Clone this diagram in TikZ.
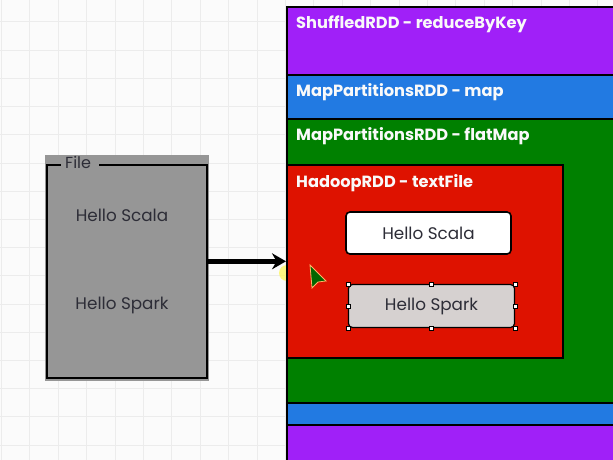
\documentclass[tikz,border=0pt]{standalone}
\usepackage{fontspec}
\setmainfont{Poppins}
\usetikzlibrary{positioning,arrows.meta}

\definecolor{shufpurple}{RGB}{160,32,248}
\definecolor{mapblue}{RGB}{34,122,226}
\definecolor{flatgreen}{RGB}{0,128,0}
\definecolor{hadoopred}{RGB}{222,18,0}
\definecolor{filegray}{RGB}{150,150,150}
\definecolor{sparkgray}{RGB}{214,209,208}
\definecolor{gridline}{RGB}{236,236,236}
\definecolor{textdark}{RGB}{45,45,55}

\begin{document}
\begin{tikzpicture}[x=1pt, y=1pt,
		rdd/.style = {draw = black, line width = 1.6pt, anchor = north west, inner sep = 0pt},
		rddlabel/.style = {anchor = west, text = white!95!gray, font = \fontsize{16.2}{18}\selectfont\bfseries, inner sep = 0pt},
		word/.style = {text = textdark, font = \fontsize{16.8}{19}\selectfont},
		line/.style = {draw = black, line width = 1.6pt, rounded corners = 4pt},
		handle/.style = {draw = black, fill = white, line width = 0.5pt, minimum size = 4pt, inner sep = 0pt},
		>=Stealth]
	\useasboundingbox (0,0) rectangle (613,-460);
	\clip (0,0) rectangle (613,-460);
	\fill[white!97!gray] (0,0) rectangle (613,-460);
	% grid
	\foreach \i in {0,...,21} {
		\draw[gridline, line width = 1pt] (1.5 + 28.4*\i, 0) -- (1.5 + 28.4*\i, -460);
	}
	\foreach \j in {0,...,16} {
		\draw[gridline, line width = 1pt] (0, -22 - 28.2*\j) -- (613, -22 - 28.2*\j);
	}
	% click highlight
	\fill[yellow!70!white, opacity = 0.7] (287,-273) circle (8);
	% the RDD stack
	\node[rdd, fill = shufpurple, minimum width = 360, minimum height = 500] (shuffled) at (286,-6) {};
	\node[rdd, fill = mapblue, minimum width = 360, minimum height = 350] (map) at (286,-74) {};
	\node[rdd, fill = flatgreen, minimum width = 360, minimum height = 284] (flatmap) at (286,-118) {};
	\node[rdd, fill = hadoopred, minimum width = 276, minimum height = 193] (hadoop) at (286,-164) {};
	\node[rddlabel] (shuffledtxt) at ([shift = {(10,-18)}]shuffled.north west) {ShuffledRDD - reduceByKey};
	\node[rddlabel] (maptxt) at ([shift = {(10,-18)}]map.north west) {MapPartitionsRDD - map};
	\node[rddlabel] (flatmaptxt) at ([shift = {(10,-18)}]flatmap.north west) {MapPartitionsRDD - flatMap};
	\node[rddlabel] (hadooptxt) at ([shift = {(10,-19)}]hadoop.north west) {HadoopRDD - textFile};
	% partitions
	\node[line, fill = white, minimum width = 165, minimum height = 42] (scala) at (428.5,-233) {};
	\node[word] at (scala) {Hello Scala};
	\node[line, fill = sparkgray, minimum width = 166, minimum height = 43, line width = 1.2pt] (spark) at (431.5,-306) {};
	\node[word] at (spark) {Hello Spark};
	\foreach \a in {north west, north, north east, west, east, south west, south, south east} {
		\node[handle] at (spark.\a) {};
	}
	% the file
	\fill[filegray] (45,-155) rectangle (209,-381);
	\node[draw = black, line width = 1.6pt, minimum width = 160, minimum height = 213, inner sep = 0pt] (file) at (127,-271.5) {};
	\fill[filegray] (61,-158) rectangle (99,-172);
	\node[word, anchor = west, inner sep = 0pt, font = \fontsize{16}{18}\selectfont] (filetxt) at (65,-162) {File};
	\node[word] (filescala) at (122,-215) {Hello Scala};
	\node[word] (filespark) at (122,-305) {Hello Spark};
	% arrow
	\draw[-{Stealth[length = 14pt, width = 16pt]}, line width = 4.5pt] (file.east |- hadoop.west) -- (hadoop.west);
	% mouse pointer
	\draw[fill = flatgreen!80!black, draw = orange!60!white, line width = 0.8pt] (310,-265) -- (326,-281) -- (318,-282) -- (312,-288) -- cycle;
\end{tikzpicture}
\end{document}
